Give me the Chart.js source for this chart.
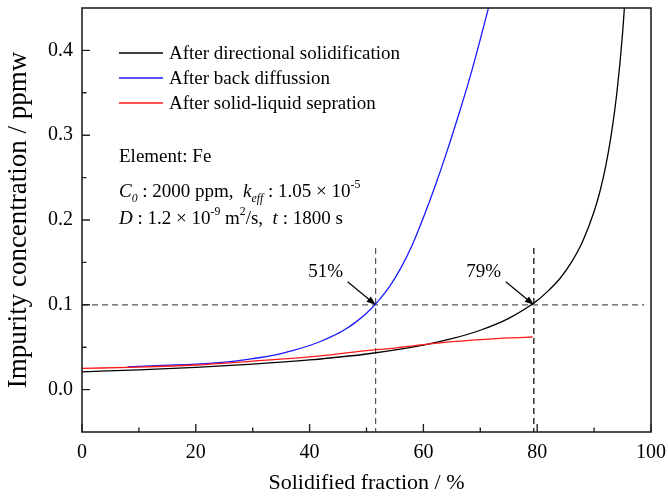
<!DOCTYPE html>
<html>
<head>
<meta charset="utf-8">
<script src="https://cdn.jsdelivr.net/npm/chart.js@4.4.1/dist/chart.umd.min.js"></script>
<style>
    html, body { margin: 0; padding: 0; background: #fff; }
    #wrap { width: 668px; height: 496px; }
</style>
</head>
<body>
<div id="wrap"><canvas id="soliChart"></canvas></div>
<script>
// Values
const fsDirectional = [0, 10, 20, 30, 40, 50, 60, 65, 70, 75, 80, 82, 84, 86, 88, 90, 91, 92, 93, 94, 95, 96];
const cDirectional = [0.021, 0.0233, 0.0262, 0.030, 0.035, 0.042, 0.0525, 0.060, 0.070, 0.084, 0.105, 0.117, 0.131, 0.150, 0.175, 0.21, 0.233, 0.262, 0.30, 0.35, 0.42, 0.52];

const fsBackDiff = [8, 14, 20, 26, 30, 34, 37, 40, 42, 44, 46, 48, 50, 52, 54, 56, 58, 60, 62, 64, 66, 68, 70, 72];
const cBackDiff = [0.0268, 0.0285, 0.030, 0.033, 0.0365, 0.041, 0.046, 0.052, 0.057, 0.063, 0.070, 0.079, 0.090, 0.104, 0.121, 0.143, 0.170, 0.203, 0.239, 0.278, 0.320, 0.364, 0.413, 0.465];

const fsSeparation = [0, 10, 20, 30, 40, 50, 55, 60, 65, 70, 75, 79.2];
const cSeparation = [0.025, 0.0265, 0.029, 0.0335, 0.0385, 0.046, 0.049, 0.053, 0.0565, 0.059, 0.061, 0.062];

const seriesLabels = ['After directional solidification', 'After back diffussion', 'After solid-liquid sepration'];
const seriesColors = ['#000000', '#1a1aff', '#ff1a1a'];

const xTicks = [0, 20, 40, 60, 80, 100];
const yTicks = [0.0, 0.1, 0.2, 0.3, 0.4];
const xMinorTicks = [10, 30, 50, 70, 90];
const yMinorTicks = [0.05, 0.15, 0.25, 0.35];

// reference guide lines and markers
const threshold = 0.1;
const markFractions = [51.6, 79.4];
const markLabels = ['51%', '79%'];
const markTop = 0.167;

const SERIF = '"Liberation Serif", "Times New Roman", serif';

const toPoints = (xs, ys) => xs.map((x, i) => ({ x: x, y: ys[i] }));

const curveStyle = (color) => ({
    borderColor: color,
    backgroundColor: color,
    borderWidth: 1.3,
    pointRadius: 0,
    fill: false,
    cubicInterpolationMode: 'monotone'
});

const guideStyle = {
    borderColor: '#555',
    borderWidth: 1.2,
    borderDash: [6, 4],
    pointRadius: 0,
    fill: false
};

/**
 * Draws a run of text pieces with italic / sub / sup styling.
 */
function drawRich(ctx, x, y, pieces, size) {
    let cx = x;
    pieces.forEach(p => {
        const s = (p.sub || p.sup) ? size * 0.62 : size;
        ctx.font = (p.i ? 'italic ' : '') + s + 'px ' + SERIF;
        let dy = 0;
        if (p.sub) dy = size * 0.28;
        if (p.sup) dy = -size * 0.45;
        ctx.fillText(p.t, cx, y + dy);
        cx += ctx.measureText(p.t).width;
    });
}

const decorPlugin = {
    id: 'decor',
    afterDatasetsDraw(chart) {
        const { ctx, chartArea: a, scales: { x, y } } = chart;
        ctx.save();

        // frame
        ctx.strokeStyle = '#222';
        ctx.lineWidth = 1.6;
        ctx.strokeRect(a.left, a.top, a.right - a.left, a.bottom - a.top);

        // inward ticks on left and bottom
        ctx.lineWidth = 1.4;
        ctx.beginPath();
        xTicks.forEach(v => { const px = x.getPixelForValue(v); ctx.moveTo(px, a.bottom); ctx.lineTo(px, a.bottom - 8); });
        xMinorTicks.forEach(v => { const px = x.getPixelForValue(v); ctx.moveTo(px, a.bottom); ctx.lineTo(px, a.bottom - 4.5); });
        yTicks.forEach(v => { const py = y.getPixelForValue(v); ctx.moveTo(a.left, py); ctx.lineTo(a.left + 8, py); });
        yMinorTicks.forEach(v => { const py = y.getPixelForValue(v); ctx.moveTo(a.left, py); ctx.lineTo(a.left + 4.5, py); });
        ctx.stroke();

        // legend inside plot
        ctx.fillStyle = '#000';
        ctx.textBaseline = 'alphabetic';
        ctx.font = '19px ' + SERIF;
        seriesLabels.forEach((label, i) => {
            const ly = a.top + 45 + i * 25;
            ctx.strokeStyle = seriesColors[i];
            ctx.lineWidth = 1.3;
            ctx.beginPath();
            ctx.moveTo(a.left + 37, ly);
            ctx.lineTo(a.left + 81, ly);
            ctx.stroke();
            ctx.fillText(label, a.left + 87, ly + 6);
        });

        // parameters
        const tx = a.left + 37;
        drawRich(ctx, tx, 162, [{ t: 'Element: Fe' }], 19);
        drawRich(ctx, tx, 197, [
            { t: 'C', i: true }, { t: '0', i: true, sub: true }, { t: ' : 2000 ppm,  ' },
            { t: 'k', i: true }, { t: 'eff', i: true, sub: true }, { t: ' : 1.05 × 10' }, { t: '-5', sup: true }
        ], 19);
        drawRich(ctx, tx, 224, [
            { t: 'D', i: true }, { t: ' : 1.2 × 10' }, { t: '-9', sup: true }, { t: ' m' }, { t: '2', sup: true },
            { t: '/s,  ' }, { t: 't', i: true }, { t: ' : 1800 s' }
        ], 19);

        // percentage labels with arrows
        ctx.font = '19px ' + SERIF;
        ctx.textAlign = 'center';
        ctx.textBaseline = 'middle';
        markFractions.forEach((f, i) => {
            const tipX = x.getPixelForValue(f);
            const tipY = y.getPixelForValue(threshold);
            ctx.fillText(markLabels[i], tipX - 50, tipY - 33);
            const sx = tipX - 28, sy = tipY - 23;
            const ang = Math.atan2(tipY - sy, tipX - sx);
            ctx.strokeStyle = '#000';
            ctx.lineWidth = 1.2;
            ctx.beginPath();
            ctx.moveTo(sx, sy);
            ctx.lineTo(tipX - 6 * Math.cos(ang), tipY - 6 * Math.sin(ang));
            ctx.stroke();
            ctx.beginPath();
            ctx.moveTo(tipX, tipY);
            ctx.lineTo(tipX - 9 * Math.cos(ang) + 3.5 * Math.sin(ang), tipY - 9 * Math.sin(ang) - 3.5 * Math.cos(ang));
            ctx.lineTo(tipX - 9 * Math.cos(ang) - 3.5 * Math.sin(ang), tipY - 9 * Math.sin(ang) + 3.5 * Math.cos(ang));
            ctx.closePath();
            ctx.fillStyle = '#000';
            ctx.fill();
        });
        ctx.restore();
    }
};

document.addEventListener('DOMContentLoaded', () => {
    const ctx = document.getElementById('soliChart').getContext('2d');
    new Chart(ctx, {
        type: 'line',
        data: {
            datasets: [
                { label: seriesLabels[2], data: toPoints(fsSeparation, cSeparation), ...curveStyle(seriesColors[2]) },
                { label: seriesLabels[1], data: toPoints(fsBackDiff, cBackDiff), ...curveStyle(seriesColors[1]) },
                { label: seriesLabels[0], data: toPoints(fsDirectional, cDirectional), ...curveStyle(seriesColors[0]) },
                { label: 'h', data: [{ x: 0, y: threshold }, { x: 98.8, y: threshold }], ...guideStyle },
                { label: 'v1', data: [{ x: markFractions[0], y: markTop }, { x: markFractions[0], y: -0.05 }], ...guideStyle },
                { label: 'v2', data: [{ x: markFractions[1], y: markTop }, { x: markFractions[1], y: -0.05 }], ...guideStyle, borderColor: '#333', borderWidth: 1.5 }
            ]
        },
        options: {
            responsive: true,
            maintainAspectRatio: false,
            animation: false,
            layout: { padding: { top: 8, right: 17, left: 0, bottom: 0 } },
            plugins: {
                legend: { display: false },
                tooltip: { enabled: false }
            },
            scales: {
                x: {
                    type: 'linear',
                    min: 0,
                    max: 100,
                    grid: { display: false, drawTicks: false },
                    border: { display: false },
                    afterBuildTicks: (s) => { s.ticks = xTicks.map(v => ({ value: v })); },
                    afterFit: (s) => { s.height = 64; s.paddingLeft = 0; s.paddingRight = 0; },
                    ticks: {
                        padding: 9,
                        color: '#000',
                        font: { family: SERIF, size: 20 },
                        maxRotation: 0,
                        callback: (v) => String(v)
                    },
                    title: {
                        display: true,
                        text: 'Solidified fraction / %',
                        color: '#000',
                        font: { family: SERIF, size: 22, lineHeight: 1.2 },
                        padding: { top: 0, bottom: 0 }
                    }
                },
                y: {
                    min: -0.05,
                    max: 0.45,
                    grid: { display: false, drawTicks: false },
                    border: { display: false },
                    afterBuildTicks: (s) => { s.ticks = yTicks.map(v => ({ value: v })); },
                    afterFit: (s) => { s.width = 82; s.paddingTop = 0; s.paddingBottom = 0; },
                    ticks: {
                        padding: 9,
                        color: '#000',
                        font: { family: SERIF, size: 20 },
                        callback: (v) => v.toFixed(1)
                    },
                    title: {
                        display: true,
                        text: 'Impurity concentration / ppmw',
                        color: '#000',
                        font: { family: SERIF, size: 27, lineHeight: 1.2 },
                        padding: { top: 3, bottom: 0 }
                    }
                }
            }
        },
        plugins: [decorPlugin]
    });
});
</script>
</body>
</html>
